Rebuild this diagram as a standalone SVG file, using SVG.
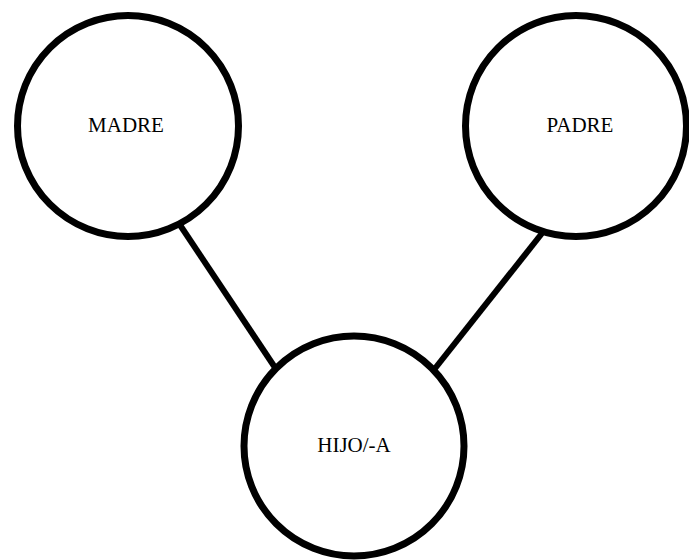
<svg xmlns="http://www.w3.org/2000/svg" width="689" height="560" viewBox="0 0 689 560">
<style>
.node{fill:#fff;stroke:#000;stroke-width:7}
.lbl{font-family:"Liberation Serif",serif;font-size:21px;fill:#000;text-anchor:middle}
.edge{stroke:#000;stroke-width:6;fill:none}
</style>
<rect width="689" height="560" fill="#fff"/>
<g id="connectors">
<line class="edge" x1="180" y1="225" x2="276" y2="369"/>
<line class="edge" x1="543" y1="232" x2="433" y2="371"/>
</g>
<g id="madre">
<circle class="node" cx="128" cy="126" r="110.5"/>
<text class="lbl" x="126" y="132">MADRE</text>
</g>
<g id="padre">
<circle class="node" cx="576" cy="126" r="110.5"/>
<text class="lbl" x="580" y="132">PADRE</text>
</g>
<g id="hijo">
<circle class="node" cx="354" cy="446" r="110"/>
<text class="lbl" x="354" y="452">HIJO/-A</text>
</g>
</svg>
